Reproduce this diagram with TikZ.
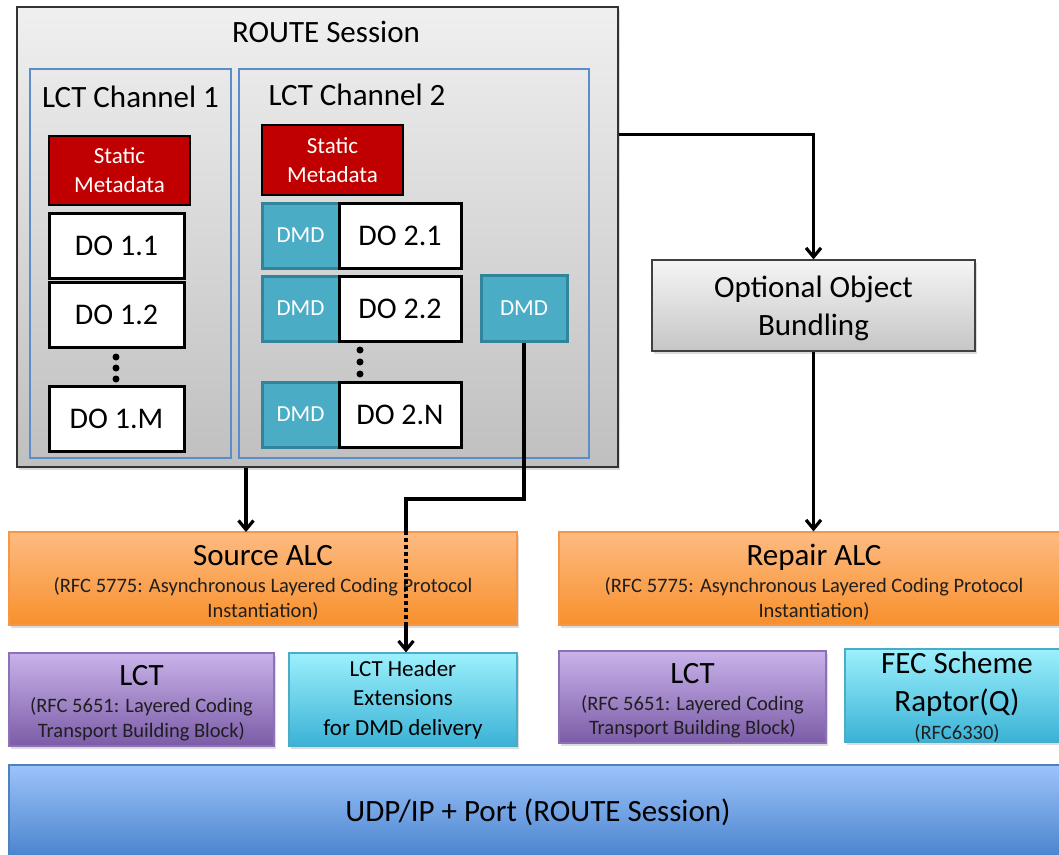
\documentclass[tikz,border=0pt]{standalone}
\usepackage{fontspec}
\setmainfont{Carlito}
\usetikzlibrary{arrows.meta,shadows}
\definecolor{smred}{HTML}{C00000}
\definecolor{chblue}{HTML}{5B8CCB}
\definecolor{dmdfill}{HTML}{4BACC6}
\definecolor{dmdedge}{HTML}{31849B}
\definecolor{alctop}{HTML}{FDBB82}
\definecolor{alcbot}{HTML}{F8902C}
\definecolor{alcedge}{HTML}{F79646}
\definecolor{lcttop}{HTML}{C9B3EA}
\definecolor{lctbot}{HTML}{7B5BA7}
\definecolor{lctedge}{HTML}{8D70B6}
\definecolor{exttop}{HTML}{9CF0FC}
\definecolor{extbot}{HTML}{3AB2D6}
\definecolor{extedge}{HTML}{4BACC6}
\definecolor{udptop}{HTML}{9DC3FA}
\definecolor{udpbot}{HTML}{3E7BC8}
\definecolor{udpedge}{HTML}{4F81BD}
\definecolor{subtxt}{HTML}{1F1F1F}
\newcommand{\fsz}[2]{\fontsize{#1}{#2}\selectfont}
\begin{document}
\begin{tikzpicture}[x=1pt, y=-1pt,
  layshadow/.style={drop shadow={shadow xshift=2pt, shadow yshift=-3pt, opacity=.28}},
  route/.style={draw=black!80, line width=1.3pt, top color=gray!12, bottom color=gray!50, minimum width=601pt, minimum height=460pt, layshadow},
  title/.style={inner sep=0pt, anchor=base, font=\fsz{31}{38}},
  chan/.style={draw=chblue, line width=2.6pt, minimum height=389pt},
  meta/.style={draw, line width=2pt, fill=smred, text=white, minimum width=141pt, align=center, font=\fsz{23}{29}},
  dobox/.style={draw, line width=3pt, fill=white, minimum height=65pt, font=\fsz{30}{36}},
  dmd/.style={draw=dmdedge, line width=3pt, fill=dmdfill, text=white, minimum height=65pt, font=\fsz{23}{28}},
  dot/.style={circle, fill, inner sep=0pt, minimum size=7pt},
  bundle/.style={draw=black!75, line width=1.2pt, top color=gray!8, bottom color=gray!45, minimum width=323pt, minimum height=91pt, align=center, font=\fsz{31}{38}, layshadow},
  alc/.style={draw=alcedge, line width=1.2pt, top color=alctop, bottom color=alcbot, minimum height=93pt, layshadow},
  lct/.style={draw=lctedge, line width=1.2pt, top color=lcttop, bottom color=lctbot, minimum height=93pt, layshadow},
  ext/.style={draw=extedge, line width=1.2pt, top color=exttop, bottom color=extbot, minimum height=93pt, layshadow},
  udp/.style={draw=udpedge, line width=1.2pt, top color=udptop, bottom color=udpbot, minimum width=1059pt, minimum height=105pt},
  sub/.style={inner sep=0pt, align=center, text=subtxt, font=\fsz{20.5}{24.5}},
  conn/.style={line width=3.2pt},
  flow/.style={line width=3.2pt, -{Straight Barb[length=9pt,width=15pt]}}]
\useasboundingbox (0,0) rectangle (1059,854);
% ROUTE session and its channels
\node[route] (route) at (317.5,237){};
\node[title] (routelbl) at (326,42){ROUTE Session};
\node[chan, minimum width=201pt] (ch1) at (130.5,263.5){};
\node[chan, minimum width=350pt] (ch2) at (414,263.5){};
\node[title] (ch1lbl) at (130.5,107){LCT Channel 1};
\node[title] (ch2lbl) at (357,105){LCT Channel 2};
% channel 1
\node[meta, minimum height=69pt] (sm1) at (119.5,170.5){Static\\Metadata};
\node[dobox, minimum width=135pt] (do11) at (116.5,245.5){DO 1.1};
\node[dobox, minimum width=135pt] (do12) at (116.5,314.5){DO 1.2};
\foreach \y in {357,368,379}
  \node[dot] (dota\y) at (116,\y){};
\node[dobox, minimum width=135pt] (do1m) at (116.5,418.5){DO 1.M};
% channel 2
\node[meta, minimum height=70pt] (sm2) at (332.5,160){Static\\Metadata};
\node[dmd, minimum width=77pt] (dmd21) at (300.5,235.5){DMD};
\node[dobox, minimum width=122pt] (do21) at (400,235.5){DO 2.1};
\node[dmd, minimum width=77pt] (dmd22) at (300.5,308.5){DMD};
\node[dobox, minimum width=122pt] (do22) at (400,308.5){DO 2.2};
\foreach \y in {350,362,374}
  \node[dot] (dotb\y) at (360,\y){};
\node[dmd, minimum width=77pt] (dmd2n) at (300.5,414.5){DMD};
\node[dobox, minimum width=122pt] (do2n) at (400,414.5){DO 2.N};
\node[dmd, minimum width=86pt, minimum height=66pt] (dmdx) at (524,308){DMD};
% bundling
\node[bundle] (bundle) at (813.5,305.5){};
\node[inner sep=0pt, align=center, font=\fsz{31}{38}] (bundlelbl) at (813.5,308.5){Optional Object\\Bundling};
% lower layers
\node[alc, minimum width=508pt] (srcalc) at (263,578.5){};
\node[title] (srclbl) at (263,565){Source ALC};
\node[sub] (srcsub) at (263,599){(RFC 5775: Asynchronous Layered Coding Protocol\\Instantiation)};
\node[alc, minimum width=510pt] (repalc) at (814,578.5){};
\node[title] (replbl) at (814,565){Repair ALC};
\node[sub] (repsub) at (814,599){(RFC 5775: Asynchronous Layered Coding Protocol\\Instantiation)};
\node[lct, minimum width=265pt] (lct1) at (141.5,699.5){};
\node[title] (lct1lbl) at (141.5,685){LCT};
\node[sub] (lct1sub) at (141.5,719.5){(RFC 5651: Layered Coding\\Transport Building Block)};
\node[ext, minimum width=228pt, align=center, font=\fsz{23}{29.5}] (hdr) at (403,699.5){LCT Header\\Extensions\\for DMD delivery};
\node[lct, minimum width=267pt, minimum height=92pt] (lct2) at (692.5,697){};
\node[title] (lct2lbl) at (692.5,683){LCT};
\node[sub] (lct2sub) at (692.5,717){(RFC 5651: Layered Coding\\Transport Building Block)};
\node[ext, minimum width=224pt] (fec) at (957,695.5){};
\node[title, align=center, font=\fsz{31}{38}, anchor=center] (feclbl) at (957,684){FEC Scheme\\Raptor(Q)};
\node[sub] (fecsub) at (957,733){(RFC6330)};
\node[udp] (udp) at (538.5,817.5){};
\node[title] (udplbl) at (538,821){UDP/IP + Port (ROUTE Session)};
% connectors
\coordinate (srcin) at (246,532);
\draw[flow] (route.south -| srcin) -- (srcin);
\draw[flow] ([yshift=-128pt]route.north east) -| (bundle.north);
\draw[flow] (bundle.south) -- (bundle.south |- repalc.north);
\coordinate (dmdturn) at (406,499);
\draw[conn] (dmdx.south) |- (dmdturn) -- (dmdturn |- srcalc.north);
\draw[conn, dash pattern=on 4pt off 3pt] (dmdturn |- srcalc.north) -- (dmdturn |- srcalc.south);
\draw[flow] (dmdturn |- srcalc.south) -- (dmdturn |- hdr.north);
\end{tikzpicture}
\end{document}
